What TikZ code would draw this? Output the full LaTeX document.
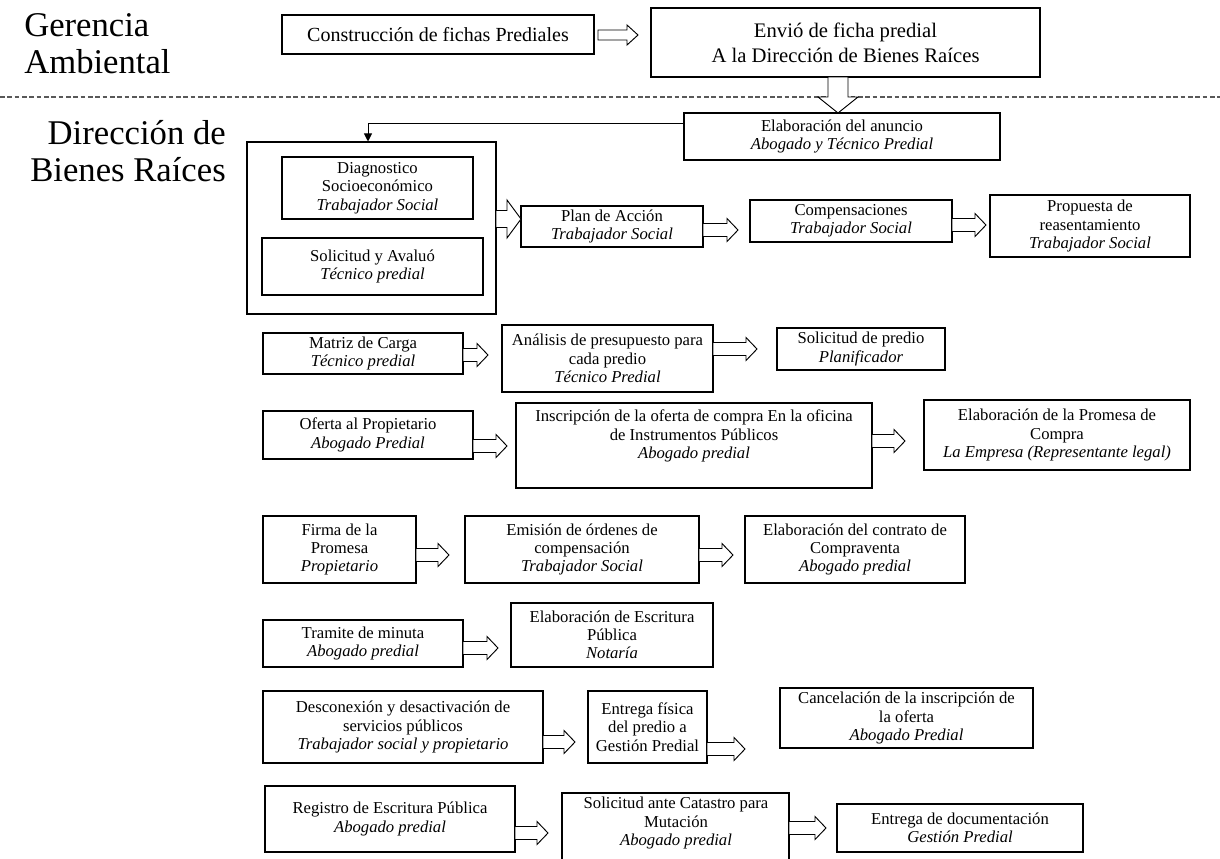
\documentclass[tikz,border=0pt]{standalone}
\usepackage{fontspec}
\setmainfont{Liberation Serif}
\usetikzlibrary{arrows.meta}
\tikzset{
  x=0.75pt, y=-0.75pt,
  box/.style={draw=black, line width=0.8pt, align=center, inner sep=1pt,
    font=\fontsize{12.5}{13.7}\selectfont},
  btext/.style={align=center, inner sep=0pt, font=\fontsize{12.5}{13.7}\selectfont},
  harrow/.style={draw=black, line width=0.7pt, fill=white, line join=miter},
  lbl/.style={inner sep=0pt, font=\fontsize{26}{28}\selectfont},
  conn/.style={draw=black, line width=0.7pt, -{Triangle[length=6pt,width=6pt]}},
  sep/.style={draw=black!65, line width=0.8pt, dash pattern=on 3.5pt off 2pt},
}
% box: name, x1, y1, x2, y2, text
\newcommand\bx[7][]{\node[box, minimum width={(#5-#3)*0.75pt}, minimum height={(#6-#4)*0.75pt}, #1] (#2) at ({(#3+#5)/2},{(#4+#6)/2}) {#7};}
% hollow horizontal arrow: x1, x2, y, body half, head half, head length
\newcommand\hArr[6]{\draw[harrow] (#1,#3-#4) -- (#2-#6,#3-#4) -- (#2-#6,#3-#5) -- (#2,#3) -- (#2-#6,#3+#5) -- (#2-#6,#3+#4) -- (#1,#3+#4) -- cycle;}
% hollow vertical arrow: y1, y2, x, body half, head half, head length
\newcommand\vArr[6]{\draw[harrow] (#3-#4,#1) -- (#3-#4,#2-#6) -- (#3-#5,#2-#6) -- (#3,#2) -- (#3+#5,#2-#6) -- (#3+#4,#2-#6) -- (#3+#4,#1) -- cycle;}
\begin{document}
\begin{tikzpicture}
\useasboundingbox (0,0) rectangle (1220,858);
\fill[white] (0,0) rectangle (1220,858);

% lane labels
\node[lbl, align=left, anchor=west] (gerencia) at (24,44) {Gerencia\\Ambiental};
\node[lbl, align=right, anchor=east] (direccion) at (226,151) {Dirección de\\Bienes Raíces};
\draw[sep] (0,97) -- (1220,97);

% top lane
\bx[font=\fontsize{15}{17}\selectfont]{A}{282}{15}{594}{54}{Construcción de fichas Prediales}
\bx[font=\fontsize{15.5}{18.8}\selectfont]{B}{651}{8}{1040}{77}{Envió de ficha predial\\A la Dirección de Bienes Raíces}
\hArr{598}{638}{35}{5}{10}{11}

% dirección lane
\bx{C}{684}{113}{1000}{160}{Elaboración del anuncio\\\textit{Abogado y Técnico Predial}}
\vArr{77}{113}{838}{10}{20}{16}

\bx{big}{247}{142}{496}{314}{}
\bx{diag}{282}{157}{473}{219}{Diagnostico\\Socioeconómico\\\textit{Trabajador Social}}
\bx{solic}{262}{238}{483}{295}{Solicitud y Avaluó\\\textit{Técnico predial}}
\coordinate (cj) at (368,123);
\draw[conn] (C.west |- cj) -| (cj |- big.north);

\bx{plan}{521}{206}{703}{247}{Plan de Acción\\\textit{Trabajador Social}}
\bx{comp}{750}{200}{952}{242}{Compensaciones\\\textit{Trabajador Social}}
\bx{prop}{990}{195}{1190}{257}{Propuesta de\\reasentamiento\\\textit{Trabajador Social}}
\hArr{496}{521}{219}{8.5}{19}{14}
\hArr{703}{738}{230}{6.5}{11.5}{11}
\hArr{952}{986}{225}{6.5}{11.5}{11}

\bx{matriz}{263}{333}{463}{374}{Matriz de Carga\\\textit{Técnico predial}}
\bx{anal}{502}{325}{713}{392}{Análisis de presupuesto para\\cada predio\\\textit{Técnico Predial}}
\bx{solpred}{777}{328}{945}{370}{Solicitud de predio\\\textit{Planificador}}
\hArr{463}{488}{355}{6.5}{11.5}{11}
\hArr{713}{757}{349}{6.5}{11.5}{11}

\bx{oferta}{263}{411}{473}{459}{Oferta al Propietario\\\textit{Abogado Predial}}
\bx{insc}{516}{403}{872}{488}{}
\node[btext] (inscT) at (694,436) {Inscripción de la oferta de compra En la oficina\\de Instrumentos Públicos\\\textit{Abogado predial}};
\bx{prom}{924}{400}{1190}{470}{Elaboración de la Promesa de\\Compra\\\textit{La Empresa (Representante legal)}}
\hArr{473}{507}{446}{6.5}{11.5}{11}
\hArr{872}{905}{441}{6.5}{11.5}{11}

\bx{firma}{263}{516}{416}{583}{Firma de la\\Promesa\\\textit{Propietario}}
\bx{emis}{465}{516}{699}{583}{Emisión de órdenes de\\compensación\\\textit{Trabajador Social}}
\bx{contr}{745}{516}{965}{583}{Elaboración del contrato de\\Compraventa\\\textit{Abogado predial}}
\hArr{416}{449}{555}{6.5}{11.5}{11}
\hArr{699}{733}{555}{6.5}{11.5}{11}

\bx{tram}{263}{620}{463}{667}{Tramite de minuta\\\textit{Abogado predial}}
\bx{escr}{511}{603}{713}{667}{Elaboración de Escritura\\Pública\\\textit{Notaría}}
\hArr{463}{498}{648}{6.5}{11.5}{11}

\bx{desc}{263}{691}{543}{763}{Desconexión y desactivación de\\servicios públicos\\\textit{Trabajador social y propietario}}
\bx{entr}{588}{691}{707}{763}{Entrega física\\del predio a\\Gestión Predial}
\bx{canc}{780}{688}{1033}{748}{Cancelación de la inscripción de\\la oferta\\\textit{Abogado Predial}}
\hArr{543}{575}{742}{6.5}{11.5}{11}
\hArr{707}{745}{749}{6.5}{11.5}{11}

\bx{reg}{265}{786}{515}{852}{Registro de Escritura Pública\\\textit{Abogado predial}}
\bx{cat}{562}{793}{789}{870}{}
\node[btext] (catT) at (676,823) {Solicitud ante Catastro para\\Mutación\\\textit{Abogado predial}};
\bx{entd}{837}{804}{1083}{852}{Entrega de documentación\\\textit{Gestión Predial}}
\hArr{515}{548}{833}{6.5}{11.5}{11}
\hArr{789}{826}{828}{6.5}{11.5}{11}
\end{tikzpicture}
\end{document}
